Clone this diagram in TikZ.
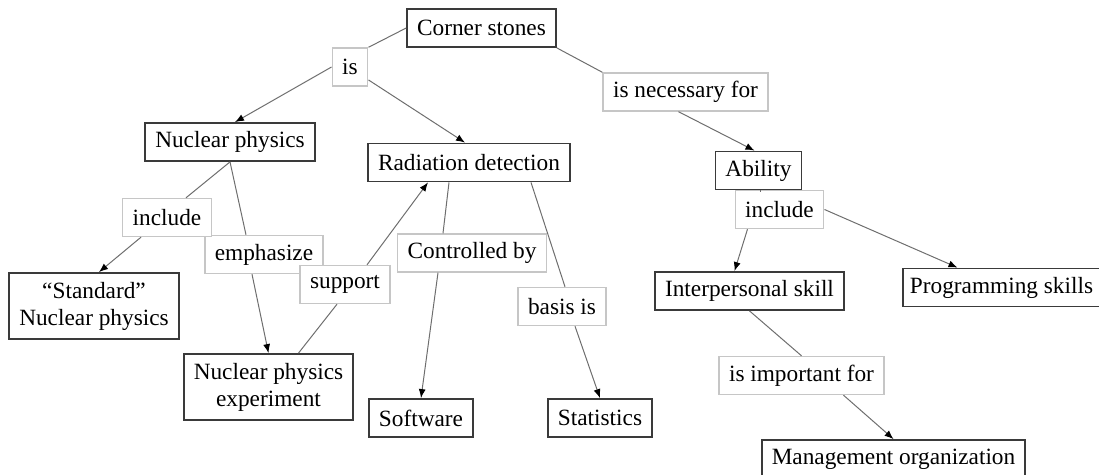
\documentclass[tikz,border=0pt]{standalone}
\usepackage{fontspec}
\setmainfont{Liberation Serif}
\usetikzlibrary{arrows.meta,calc,shadows}

\definecolor{conceptdraw}{HTML}{3A3A3A}
\definecolor{phrasedraw}{HTML}{C6C6C6}
\definecolor{joindraw}{HTML}{6E6E6E}

\tikzset{
    concept/.style  = {draw=conceptdraw, line width=0.9pt, fill=white, inner xsep=5pt,
                       minimum height=19pt, align=center,
                       drop shadow={shadow xshift=0.45pt, shadow yshift=-0.45pt,
                                    fill=conceptdraw, opacity=0.8}},
    phrase/.style   = {draw=phrasedraw, line width=0.7pt, fill=white, inner xsep=5pt,
                       minimum height=19pt},
    joinline/.style = {draw=joindraw, line width=0.5pt},
    leadsto/.style  = {joinline, -{Latex[length=4.5pt,width=3.5pt,black]}}
}

\begin{document}
\begin{tikzpicture}[x=0.5pt, y=-0.5pt, font=\fontsize{11.65}{13.5}\selectfont]
    \useasboundingbox (0,0) rectangle (1099,475);

    % concepts
    \node [concept] (cs) at (481.5,28) {Corner stones};
    \node [concept] (np) at (230,142) {Nuclear physics};
    \node [concept] (rd) at (469,162.5) {Radiation detection};
    \node [concept] (ab) at (758.5,170.5) {Ability};
    \node [concept, minimum height=33pt] (std) at (94,306) {``Standard''\\Nuclear physics};
    \node [concept, minimum height=33pt] (npe) at (268.5,387) {Nuclear physics\\experiment};
    \node [concept] (sw) at (421,418) {Software};
    \node [concept] (stat) at (600,418) {Statistics};
    \node [concept] (ip) at (749.5,291) {Interpersonal skill};
    \node [concept, anchor=west, inner xsep=3.5pt] (pg) at (902,287.5) {Programming skills};
    \node [concept] (mgmt) at (893.5,459) {Management organization};

    % linking phrases
    \node [phrase] (is) at (350,67) {is};
    \node [phrase] (isn) at (685.5,92) {is necessary for};
    \node [phrase] (emph) at (264,254.5) {emphasize};
    \node [phrase] (incl) at (167,217.5) {include};
    \node [phrase] (sup) at (345,284.5) {support};
    \node [phrase] (cb) at (472,253) {Controlled by};
    \node [phrase] (basis) at (562,306.5) {basis is};
    \node [phrase] (incr) at (779.5,209.5) {include};
    \node [phrase] (imp) at (801.5,375.5) {is important for};

    % connectors
    \draw [joinline] (cs.west) -- (is.north east);
    \draw [leadsto] (is.west) -- ($(np.north)+(5,0)$);
    \draw [leadsto] (is.-35) -- ($(rd.north)+(-4,0)$);
    \draw [joinline] (cs.south east) -- (isn.north west);
    \draw [leadsto] ($(isn.south)+(-7,0)$) -- ($(ab.north)+(-4,0)$);
    \draw [joinline] ($(ab.south)+(2,0)$) -- ($(ab.south)+(2,2)$);
    \draw [leadsto] ($(incr.south)+(-32,0)$) -- ($(ip.north)+(-15,0)$);
    \draw [leadsto] (incr.east) -- ($(pg.north)+(-44,0)$);

    \draw [joinline] (np.south) -- ($(incl.north)+(19,0)$);
    \draw [leadsto] ($(incl.south)+(-26,0)$) -- ($(std.north)+(5,0)$);
    \draw [joinline] (np.south) -- ($(emph.north)+(-18,0)$);
    \draw [leadsto] ($(emph.south)+(-12,0)$) -- (npe.north);
    \draw [joinline] ($(npe.north)+(30,0)$) -- ($(sup.south)+(-8,0)$);
    \draw [leadsto] ($(sup.north)+(22,0)$) -- ($(rd.south)+(-41,0)$);

    \draw [joinline] ($(rd.south)+(-20,0)$) -- ($(cb.north)+(-29,0)$);
    \draw [leadsto] ($(cb.south)+(-34,0)$) -- (sw.north);
    \draw [joinline] ($(rd.south)+(62,0)$) -- ($(basis.north)+(3,0)$);
    \draw [leadsto] ($(basis.south)+(13,0)$) -- (stat.north);

    \draw [joinline] (ip.south) -- (imp.north);
    \draw [leadsto] ($(imp.south)+(42,0)$) -- (mgmt.north);
\end{tikzpicture}
\end{document}
